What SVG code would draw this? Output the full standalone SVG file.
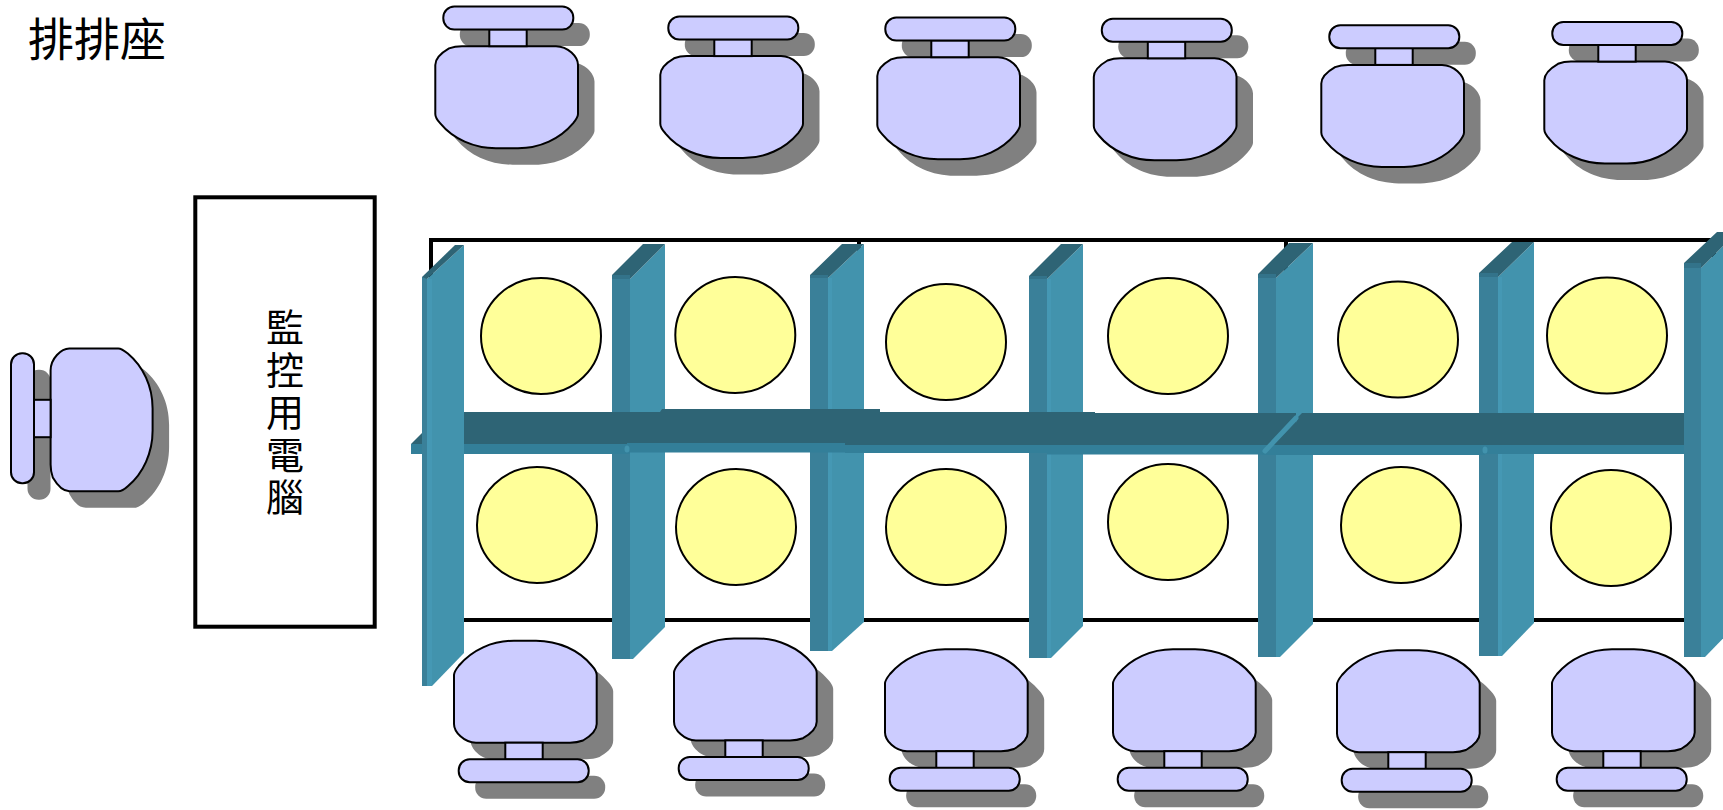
<svg xmlns="http://www.w3.org/2000/svg" width="1723" height="810" viewBox="0 0 1723 810">
<style>
.frame{fill:#fff;stroke:#000;stroke-width:4}
.seat{fill:#ffff99;stroke:#000;stroke-width:2}
.left{fill:#3a8099}.face{fill:#4293ad}.cap{fill:#2e6475}.front{fill:#337f99}.hi{fill:#4598b4}.band{fill:#33738a}
.chair{fill:#ccccff;stroke:#000;stroke-width:2}
.shadow{fill:#808080;stroke:none}
text{font-family:"Noto Sans CJK TC","Noto Sans CJK SC",serif;fill:#000}
</style>
<defs>
<g id="chairShape">
<path d="M0,35 C0,32 3,28 5,25.500 C18,10 38,0.700 60,0.700 L82,0.700 C104,0.700 125,10 137.700,25.500 C140,28 142.700,32 142.700,35 L142.700,84 C142.700,92 135,97 129,100.500 C125,102 120,102.700 116,102.700 L22,102.700 C10,102.700 0,92 0,84Z"/>
<rect x="51.300" y="102.700" width="37.400" height="16.800"/>
<rect x="4.700" y="119.300" width="130" height="23" rx="11" ry="11"/>
</g>
</defs>
<rect width="1723" height="810" fill="#fff"/>
<text id="title" x="28" y="56" font-size="46">排排座</text>
<g id="table">
<rect class="frame" x="431" y="240" width="428" height="380"/>
<rect class="frame" x="859" y="240" width="427" height="380"/>
<rect class="frame" x="1286" y="240" width="428" height="380"/>
</g>
<g id="seats">
<ellipse class="seat" cx="541" cy="336" rx="60" ry="58"/>
<ellipse class="seat" cx="735.300" cy="335" rx="60" ry="58"/>
<ellipse class="seat" cx="946" cy="342" rx="60" ry="58"/>
<ellipse class="seat" cx="1168" cy="336" rx="60" ry="58"/>
<ellipse class="seat" cx="1398" cy="339.500" rx="60" ry="58"/>
<ellipse class="seat" cx="1607" cy="335.500" rx="60" ry="58"/>
<ellipse class="seat" cx="537" cy="525" rx="60" ry="58"/>
<ellipse class="seat" cx="736" cy="527" rx="60" ry="58"/>
<ellipse class="seat" cx="946" cy="527" rx="60" ry="58"/>
<ellipse class="seat" cx="1168" cy="522" rx="60" ry="58"/>
<ellipse class="seat" cx="1401" cy="525" rx="60" ry="58"/>
<ellipse class="seat" cx="1611" cy="528" rx="60" ry="58"/>
</g>
<g id="posts-back">
<g id="post-2"><rect class="left" x="612" y="275" width="18" height="384"/><rect class="band" x="612" y="275" width="18" height="4"/><polygon class="face" points="630,279 665,244 665,627 633,659 630,659"/><polygon class="cap" points="612,275 643,244 665,244 630,279 630,275"/></g>
<g id="post-3"><rect class="left" x="810" y="275" width="18" height="376"/><rect class="band" x="810" y="275" width="18" height="3"/><polygon class="face" points="828,278 864,244 864,622 832,651 828,651"/><rect class="hi" x="828" y="278" width="4" height="373"/><polygon class="cap" points="810,275 842,244 864,244 828,278 828,275"/></g>
<g id="post-4"><rect class="left" x="1029" y="276" width="18" height="382"/><rect class="band" x="1029" y="276" width="18" height="3"/><polygon class="face" points="1047,279 1083,244 1083,626 1051,658 1047,658"/><rect class="hi" x="1047" y="279" width="4" height="379"/><polygon class="cap" points="1029,276 1061,244 1083,244 1047,279 1047,276"/></g>
<g id="post-5"><rect class="left" x="1258" y="274" width="18" height="383"/><rect class="band" x="1258" y="274" width="18" height="4"/><polygon class="face" points="1276,278 1313,243 1313,624 1280,657 1276,657"/><polygon class="cap" points="1258,274 1289,243 1313,243 1276,278 1276,274"/></g>
<g id="post-6"><rect class="left" x="1479" y="273" width="19" height="383"/><rect class="band" x="1479" y="273" width="19" height="4"/><polygon class="face" points="1498,277 1534,242 1534,623 1502,656 1498,656"/><rect class="hi" x="1498" y="277" width="4" height="379"/><polygon class="cap" points="1479,273 1512,242 1534,242 1498,277 1498,273"/></g>
</g>
<g id="beam">
<polygon class="cap" points="411,444 443,412 660,412 662,409 880,409 880,412 1095,412 1095,413 1684,413 1684,445 411,445"/>
<rect class="front" x="411" y="444" width="219" height="10"/>
<rect class="front" x="627" y="443" width="218" height="9.500"/>
<rect class="front" x="845" y="445" width="202" height="8"/>
<rect class="front" x="1047" y="445" width="215" height="9.500"/>
<rect class="front" x="1262" y="445" width="223" height="10"/>
<rect class="front" x="1485" y="445" width="199" height="9"/>
<line x1="1265" y1="451" x2="1296" y2="418" stroke="#4293ad" stroke-width="5" stroke-linecap="round"/>
<polygon class="face" points="1296,413 1302,413 1297,418 1296,423"/>
<ellipse class="face" cx="627" cy="449" rx="2.500" ry="3.500"/>
<ellipse class="face" cx="1485" cy="450" rx="2.500" ry="3.500"/>
</g>
<g id="posts-front">
<g id="post-1"><rect class="left" x="422" y="277" width="5" height="409"/><polygon class="face" points="427,279 464,245 464,653 432,686 427,686"/><rect class="hi" x="427" y="279" width="5" height="407"/><polygon class="cap" points="422,277 455,245 464,245 427,279"/></g>
<g id="post-7"><rect class="left" x="1684" y="263" width="17" height="394"/><rect class="band" x="1684" y="263" width="17" height="5"/><polygon class="face" points="1701,268 1737,232 1737,624 1705,657 1701,657"/><polygon class="cap" points="1684,263 1717,232 1737,232 1701,268 1701,263"/></g>
</g>
<g id="monitor">
<rect x="195.300" y="197.300" width="179.400" height="429.400" fill="#fff" stroke="#000" stroke-width="4"/>
<text x="285" y="308" font-size="38" letter-spacing="4.500" style="writing-mode:vertical-rl">監控用電腦</text>
</g>
<g id="chair-top-1"><use href="#chairShape" class="shadow" transform="translate(594.500,165.400) rotate(180)"/><use href="#chairShape" class="chair" transform="translate(578,148.900) rotate(180)"/></g>
<g id="chair-top-2"><use href="#chairShape" class="shadow" transform="translate(819.500,175.300) rotate(180)"/><use href="#chairShape" class="chair" transform="translate(803,158.800) rotate(180)"/></g>
<g id="chair-top-3"><use href="#chairShape" class="shadow" transform="translate(1036.500,176.400) rotate(180)"/><use href="#chairShape" class="chair" transform="translate(1020,159.900) rotate(180)"/></g>
<g id="chair-top-4"><use href="#chairShape" class="shadow" transform="translate(1253,177.500) rotate(180)"/><use href="#chairShape" class="chair" transform="translate(1236.500,161) rotate(180)"/></g>
<g id="chair-top-5"><use href="#chairShape" class="shadow" transform="translate(1480.500,184.100) rotate(180)"/><use href="#chairShape" class="chair" transform="translate(1464,167.600) rotate(180)"/></g>
<g id="chair-top-6"><use href="#chairShape" class="shadow" transform="translate(1703.500,180.800) rotate(180)"/><use href="#chairShape" class="chair" transform="translate(1687,164.300) rotate(180)"/></g>
<g id="chair-left"><use href="#chairShape" class="shadow" transform="translate(169.800,365) rotate(90)"/><use href="#chairShape" class="chair" transform="translate(153.300,348.500) rotate(90)"/></g>
<g id="chair-bottom-1"><use href="#chairShape" class="shadow" transform="translate(470.500,656.500)"/><use href="#chairShape" class="chair" transform="translate(454,640)"/></g>
<g id="chair-bottom-2"><use href="#chairShape" class="shadow" transform="translate(690.500,654.200)"/><use href="#chairShape" class="chair" transform="translate(674,637.700)"/></g>
<g id="chair-bottom-3"><use href="#chairShape" class="shadow" transform="translate(901.500,665)"/><use href="#chairShape" class="chair" transform="translate(885,648.500)"/></g>
<g id="chair-bottom-4"><use href="#chairShape" class="shadow" transform="translate(1129.500,665)"/><use href="#chairShape" class="chair" transform="translate(1113,648.500)"/></g>
<g id="chair-bottom-5"><use href="#chairShape" class="shadow" transform="translate(1353.500,666)"/><use href="#chairShape" class="chair" transform="translate(1337,649.500)"/></g>
<g id="chair-bottom-6"><use href="#chairShape" class="shadow" transform="translate(1568.500,665)"/><use href="#chairShape" class="chair" transform="translate(1552,648.500)"/></g>
</svg>
